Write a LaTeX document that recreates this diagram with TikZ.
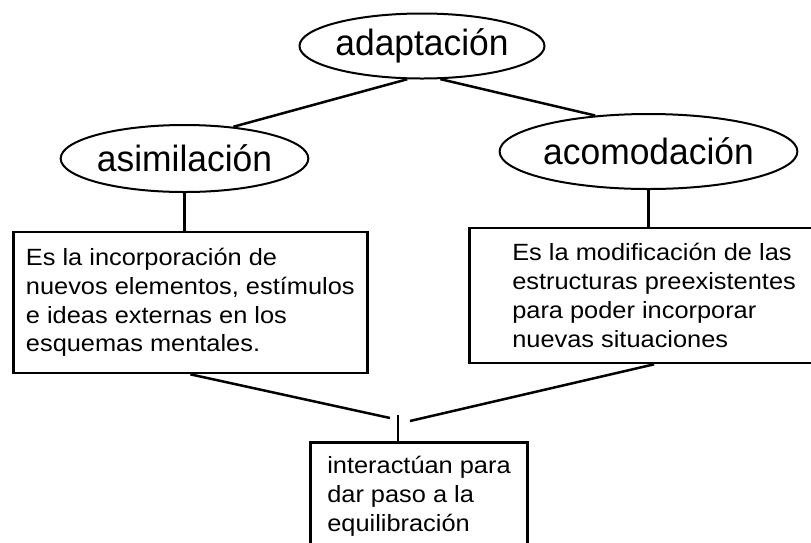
\documentclass[tikz,border=0pt]{standalone}
\usepackage{fontspec}
\setmainfont{Liberation Sans}
\newfontfamily\ovalfont[FakeStretch=0.97]{Liberation Sans}
\newfontfamily\cajafont[FakeStretch=1.08]{Liberation Sans}
\usetikzlibrary{shapes,positioning,calc}

\begin{document}
\begin{tikzpicture}[x=1pt, y=-1pt,
  concepto/.style={ellipse, draw, line width=2pt, inner sep=0pt, font={\ovalfont\fontsize{36.5}{40}\selectfont}},
  definicion/.style={rectangle, draw, line width=2.6pt, align=left, inner ysep=0pt, font={\cajafont\fontsize{23.5}{28.8}\selectfont}},
  enlace/.style={line width=2.5pt}]

\useasboundingbox (0,0) rectangle (811,542);
\clip (0,0) rectangle (811,542);
\fill [white] (0,0) rectangle (811,542);

% CONCEPTOS

\node [concepto, minimum width=231pt, minimum height=65pt] (adaptacion) at (422,46) {adaptación};

\node [concepto, minimum width=225pt, minimum height=67pt] (asimilacion) at (184.5,158.5) {asimilación};

\node [concepto, minimum width=243pt, minimum height=75pt] (acomodacion) at (648.5,151.5) {acomodación};

% DEFINICIONES

\node [definicion, anchor=west, inner xsep=12.5pt, minimum width=354pt, minimum height=141pt] (asimilacion-def) at (12,302.5)
{Es la incorporación de\\
nuevos elementos, estímulos\\
e ideas externas en los\\
esquemas mentales.};

\node [definicion, anchor=west, inner xsep=43pt, minimum height=135pt] (acomodacion-def) at (468,295.5)
{Es la modificación de las\\
estructuras preexistentes\\
para poder incorporar\\
nuevas situaciones};

\node [definicion, anchor=north, inner xsep=17pt, inner ysep=14pt] (equilibracion) at (419,441)
{interactúan para\\
dar paso a la\\
equilibración};

% ENLACES

\coordinate (union) at (398,415);
\coordinate (fin-asimilacion) at (390,418);
\coordinate (fin-acomodacion) at (410,421);

\draw [enlace] (adaptacion.-114) -- (asimilacion.33);
\draw [enlace] (adaptacion.-61) -- (acomodacion.146);
\draw [enlace] (asimilacion.south) -- (asimilacion.south |- asimilacion-def.north);
\draw [enlace] (acomodacion.south) -- (acomodacion.south |- acomodacion-def.north);
\draw [enlace] (asimilacion-def.south) -- (fin-asimilacion);
\draw [enlace] (acomodacion-def.south) -- (fin-acomodacion);
\draw [enlace] (union) -- (union |- equilibracion.north);

\end{tikzpicture}
\end{document}
